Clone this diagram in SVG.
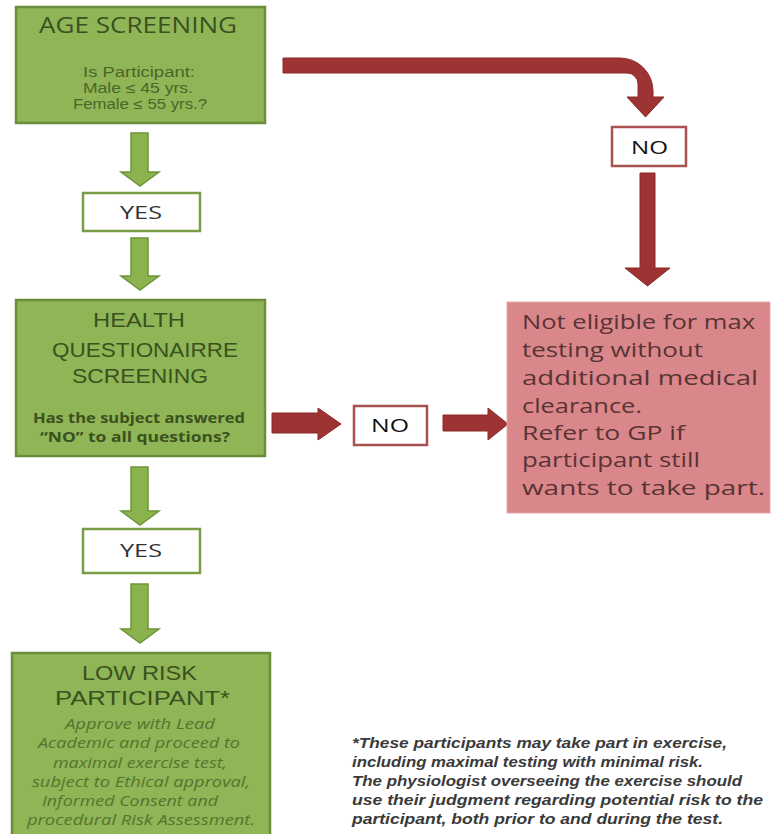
<svg xmlns="http://www.w3.org/2000/svg" width="771" height="834" viewBox="0 0 771 834">
<style>
.gbox{fill:#8fb556;stroke:#6c8e3c;stroke-width:2.5}
.ybox{fill:#ffffff;stroke:#7a9c45;stroke-width:2.5}
.nbox{fill:#ffffff;stroke:#a9514f;stroke-width:2.5}
.pbox{fill:#d9878b;stroke:#e3a9ab;stroke-width:1}
.garrow{fill:#8ab34d;stroke:#6f9539;stroke-width:1.5}
.rarrow{fill:#9d3332;stroke:#8a2a29;stroke-width:1}
text{font-family:"Open Sans","Noto Sans",sans-serif}
.title{font-size:21px;fill:#3b511f}
.ltitle{font-family:"Liberation Sans",Arial,sans-serif;font-size:21px;fill:#3b511f}
.sub{font-family:"Liberation Sans",Arial,sans-serif;font-size:14px;fill:#4a6628}
.bold{font-size:13.8px;font-weight:bold;fill:#3b511f}
.ital{font-size:13.8px;font-style:italic;fill:#55742e}
.lbl{font-size:19px;fill:#333333}
.no{font-size:19px;fill:#111111}
.pink{font-size:20px;fill:#5a3334}
.foot{font-family:"Liberation Sans",Arial,sans-serif;font-size:14px;font-weight:bold;font-style:italic;fill:#3a3a3a}
</style>
<rect width="771" height="834" fill="#ffffff"/>

<g id="connectors">
  <path class="garrow" d="M131,133 H148 V172 H159 L140,186 L121,172 H131 Z"/>
  <path class="garrow" d="M131,238 H148 V276 H159 L140,290 L121,276 H131 Z"/>
  <path class="garrow" d="M131,467 H148 V511 H159 L140,525 L121,511 H131 Z"/>
  <path class="garrow" d="M131,584 H148 V629 H159 L140,643 L121,629 H131 Z"/>
  <path class="rarrow" d="M283,58 H620 A33,33 0 0 1 653,91 V97 H664 L645.5,117 L627,97 H638 V84 A11,11 0 0 0 627,73 H283 Z"/>
  <path class="rarrow" d="M640,173 H655 V268 H670 L647.5,286 L625,268 H640 Z"/>
  <path class="rarrow" d="M272,413 H318 V408 L341,424 L318,440 V433 H272 Z"/>
  <path class="rarrow" d="M443,415 H488 V408 L508,424 L488,440 V431 H443 Z"/>
</g>

<g id="age-screening">
  <rect class="gbox" x="16" y="7" width="249" height="116"/>
  <text class="title" x="39" y="33" textLength="198" lengthAdjust="spacingAndGlyphs">AGE SCREENING</text>
  <text class="sub" x="83" y="77" textLength="112" lengthAdjust="spacingAndGlyphs">Is Participant:</text>
  <text class="sub" x="83" y="93" textLength="110" lengthAdjust="spacingAndGlyphs">Male ≤ 45 yrs.</text>
  <text class="sub" x="73" y="109" textLength="134" lengthAdjust="spacingAndGlyphs">Female ≤ 55 yrs.?</text>
</g>

<g id="yes-1">
  <rect class="ybox" x="83" y="193" width="117" height="38"/>
  <text class="lbl" x="120" y="219" textLength="42" lengthAdjust="spacingAndGlyphs">YES</text>
</g>

<g id="health-screening">
  <rect class="gbox" x="16" y="300" width="249" height="156"/>
  <text class="ltitle" x="93" y="327" textLength="92" lengthAdjust="spacingAndGlyphs">HEALTH</text>
  <text class="ltitle" x="52" y="357" textLength="186" lengthAdjust="spacingAndGlyphs">QUESTIONAIRRE</text>
  <text class="ltitle" x="72" y="383" textLength="136" lengthAdjust="spacingAndGlyphs">SCREENING</text>
  <text class="bold" x="33" y="423" textLength="212" lengthAdjust="spacingAndGlyphs">Has the subject answered</text>
  <text class="bold" x="40" y="442" textLength="190" lengthAdjust="spacingAndGlyphs">“NO” to all questions?</text>
</g>

<g id="yes-2">
  <rect class="ybox" x="83" y="529" width="117" height="44"/>
  <text class="lbl" x="120" y="557" textLength="42" lengthAdjust="spacingAndGlyphs">YES</text>
</g>

<g id="low-risk">
  <rect class="gbox" x="12" y="653" width="258" height="190"/>
  <text class="ltitle" x="82" y="680" textLength="115" lengthAdjust="spacingAndGlyphs">LOW RISK</text>
  <text class="ltitle" x="55" y="705" textLength="175" lengthAdjust="spacingAndGlyphs">PARTICIPANT*</text>
  <text class="ital" x="65" y="729" textLength="150" lengthAdjust="spacingAndGlyphs">Approve with Lead</text>
  <text class="ital" x="38" y="748" textLength="202" lengthAdjust="spacingAndGlyphs">Academic and proceed to</text>
  <text class="ital" x="53" y="768" textLength="174" lengthAdjust="spacingAndGlyphs">maximal exercise test,</text>
  <text class="ital" x="32" y="787" textLength="218" lengthAdjust="spacingAndGlyphs">subject to Ethical approval,</text>
  <text class="ital" x="42" y="806" textLength="176" lengthAdjust="spacingAndGlyphs">Informed Consent and</text>
  <text class="ital" x="27" y="825" textLength="228" lengthAdjust="spacingAndGlyphs">procedural Risk Assessment.</text>
</g>

<g id="no-1">
  <rect class="nbox" x="612" y="127" width="74" height="39"/>
  <text class="no" x="631" y="154" textLength="37" lengthAdjust="spacingAndGlyphs">NO</text>
</g>

<g id="no-2">
  <rect class="nbox" x="354" y="406" width="73" height="39"/>
  <text class="no" x="371" y="432" textLength="38" lengthAdjust="spacingAndGlyphs">NO</text>
</g>

<g id="not-eligible">
  <rect class="pbox" x="507" y="302" width="263" height="211"/>
  <text class="pink" x="522" y="329" textLength="233" lengthAdjust="spacingAndGlyphs">Not eligible for max</text>
  <text class="pink" x="522" y="357" textLength="181" lengthAdjust="spacingAndGlyphs">testing without</text>
  <text class="pink" x="522" y="385" textLength="236" lengthAdjust="spacingAndGlyphs">additional medical</text>
  <text class="pink" x="522" y="413" textLength="120" lengthAdjust="spacingAndGlyphs">clearance.</text>
  <text class="pink" x="522" y="440" textLength="163" lengthAdjust="spacingAndGlyphs">Refer to GP if</text>
  <text class="pink" x="522" y="467" textLength="178" lengthAdjust="spacingAndGlyphs">participant still</text>
  <text class="pink" x="522" y="495" textLength="243" lengthAdjust="spacingAndGlyphs">wants to take part.</text>
</g>

<g id="footnote">
  <text class="foot" x="352" y="748" textLength="375" lengthAdjust="spacingAndGlyphs">*These participants may take part in exercise,</text>
  <text class="foot" x="352" y="767" textLength="351" lengthAdjust="spacingAndGlyphs">including  maximal testing with minimal risk.</text>
  <text class="foot" x="352" y="786" textLength="390" lengthAdjust="spacingAndGlyphs">The physiologist overseeing the exercise should</text>
  <text class="foot" x="352" y="805" textLength="411" lengthAdjust="spacingAndGlyphs">use their judgment regarding potential risk to the</text>
  <text class="foot" x="352" y="824" textLength="371" lengthAdjust="spacingAndGlyphs">participant, both prior to and during the test.</text>
</g>
</svg>
